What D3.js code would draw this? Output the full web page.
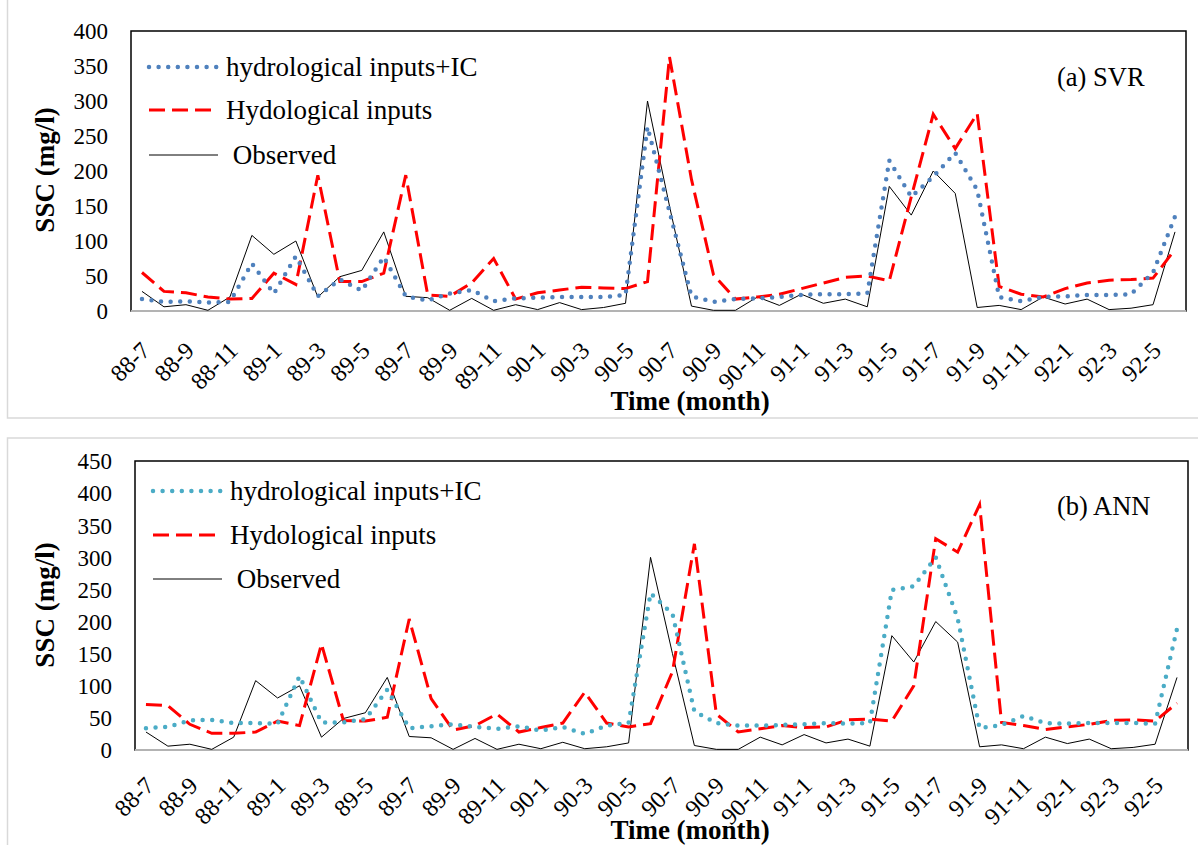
<!DOCTYPE html>
<html>
<head>
<meta charset="utf-8">
<script src="https://cdn.jsdelivr.net/npm/d3@7"></script>
<style>
    body { margin: 0; background: #fff; }
    svg text { font-family: "Liberation Serif", "Times New Roman", serif; fill: #000; }
</style>
</head>
<body>
<div id="chart-area"></div>
<script>

// months on the x axis (88-7 .. 92-6)
let months = ["88-7","88-8","88-9","88-10","88-11","88-12",
    "89-1","89-2","89-3","89-4","89-5","89-6","89-7","89-8","89-9","89-10","89-11","89-12",
    "90-1","90-2","90-3","90-4","90-5","90-6","90-7","90-8","90-9","90-10","90-11","90-12",
    "91-1","91-2","91-3","91-4","91-5","91-6","91-7","91-8","91-9","91-10","91-11","91-12",
    "92-1","92-2","92-3","92-4","92-5","92-6"];

// observed SSC (same in both panels)
let observed = [28, 6, 9, 1, 20, 108, 81, 100, 20, 49, 58, 113, 21, 19, 1, 18, 1, 9, 2, 12, 2, 5, 11, 300,
    150, 7, 1, 1, 20, 8, 24, 11, 17, 6, 178, 137, 200, 168, 5, 8, 2, 20, 10, 17, 2, 4, 9, 113];

// (a) SVR
let svrIC = [17, 13, 14, 12, 13, 68, 25, 78, 21, 45, 29, 77, 21, 15, 25, 30, 14, 18, 19, 20, 20, 20, 23, 263,
    142, 21, 13, 17, 18, 20, 23, 24, 24, 25, 215, 163, 192, 226, 173, 20, 14, 20, 21, 23, 23, 24, 55, 135];
let svrHydro = [55, 28, 26, 20, 17, 18, 54, 38, 194, 42, 42, 54, 194, 23, 21, 40, 75, 17, 26, 30, 34, 33, 32, 42,
    363, 188, 52, 17, 20, 24, 32, 40, 48, 50, 43, 163, 281, 232, 282, 35, 24, 20, 32, 40, 44, 45, 47, 88];

// (b) ANN
let annIC = [34, 36, 46, 47, 42, 42, 41, 115, 43, 43, 48, 94, 34, 37, 40, 36, 33, 37, 30, 36, 25, 38, 42, 244,
    212, 60, 42, 38, 38, 39, 40, 42, 41, 42, 249, 255, 300, 205, 34, 39, 53, 42, 41, 42, 42, 42, 41, 189];
let annHydro = [71, 69, 40, 26, 26, 28, 45, 38, 165, 46, 45, 51, 204, 80, 31, 38, 56, 28, 35, 42, 90, 42, 36, 41,
    122, 321, 56, 28, 33, 38, 35, 36, 47, 48, 45, 100, 329, 308, 382, 43, 38, 32, 36, 40, 46, 47, 45, 73];

let yTicksA = [0, 50, 100, 150, 200, 250, 300, 350, 400];
let yTicksB = [0, 50, 100, 150, 200, 250, 300, 350, 400, 450];

let legendNames = ["hydrological inputs+IC", "Hydological inputs", " Observed"];

const SERIF = '"Liberation Serif", "Times New Roman", serif';


class PanelChart {

    constructor(svg, cfg) {
        this.svg = svg;
        this.cfg = cfg;
        this.initVis();
    }

    initVis() {
        let vis = this;
        let c = vis.cfg;

        // outer light frame
        vis.svg.append("rect")
            .attr("x", 7.5).attr("y", c.frameTop)
            .attr("width", 1200).attr("height", c.frameHeight)
            .attr("fill", "none")
            .attr("stroke", "#d9d9d9")
            .attr("stroke-width", 1.5);

        vis.x = d3.scalePoint()
            .domain(months)
            .range([c.left, c.right])
            .padding(0.5);

        vis.y = d3.scaleLinear()
            .domain([0, d3.max(c.yTicks)])
            .range([c.bottom, c.top]);

        vis.g = vis.svg.append("g");

        // y axis
        let yAxis = d3.axisLeft(vis.y).tickValues(c.yTicks).tickSize(0).tickPadding(0);
        vis.g.append("g")
            .attr("transform", `translate(${c.left - 23},0)`)
            .call(yAxis)
            .attr("font-family", SERIF)
            .attr("font-size", 23)
            .call(g => g.select(".domain").remove())
            .selectAll("text")
            .style("font-family", SERIF)
            .style("font-size", "23px")
            .attr("dy", "0.34em");

        // x axis, every other month labelled
        let xAxis = d3.axisBottom(vis.x)
            .tickSize(0)
            .tickFormat((d, i) => i % 2 === 0 ? d : "");
        vis.g.append("g")
            .attr("transform", `translate(0,${c.bottom})`)
            .call(xAxis)
            .attr("font-family", SERIF)
            .attr("font-size", 24)
            .call(g => g.select(".domain").remove())
            .selectAll("text")
            .style("font-family", SERIF)
            .style("font-size", "24px")
            .attr("x", 0).attr("y", 0)
            .attr("dy", "0.35em")
            .attr("text-anchor", "end")
            .attr("transform", `translate(3,${c.labelOffset}) rotate(-45)`);

        // plot border
        vis.g.append("rect")
            .attr("x", c.left).attr("y", c.top)
            .attr("width", c.right - c.left).attr("height", c.bottom - c.top)
            .attr("fill", "none")
            .attr("stroke", "#000")
            .attr("stroke-width", 1.5);

        vis.g.append("line")
            .attr("x1", c.left).attr("x2", c.right)
            .attr("y1", c.bottom).attr("y2", c.bottom)
            .attr("stroke", "#b3b3b3")
            .attr("stroke-width", 2);

        // axis titles
        vis.g.append("text")
            .attr("transform", `translate(54,${c.yTitleY}) rotate(-90)`)
            .attr("text-anchor", "middle")
            .style("font-size", "27px")
            .style("font-weight", "bold")
            .text("SSC (mg/l)");

        vis.g.append("text")
            .attr("x", 690).attr("y", c.xTitleY)
            .attr("text-anchor", "middle")
            .style("font-size", "27px")
            .style("font-weight", "bold")
            .text("Time (month)");

        // panel label
        vis.g.append("text")
            .attr("x", 1057).attr("y", c.top + c.labelDy)
            .style("font-size", "26.5px")
            .text(c.title);

        vis.styles = [
            {color: c.icColor, width: 4.5, dash: "0 9.6", cap: "round"},
            {color: "#ff0000", width: 3, dash: "16 7", cap: "butt"},
            {color: "#000", width: 1, dash: null, cap: "butt"}
        ];

        vis.wrangleData();
    }

    wrangleData() {
        let vis = this;
        vis.series = [vis.cfg.ic, vis.cfg.hydro, observed].map((vals, k) => ({
            style: vis.styles[k],
            values: vals.map((v, i) => ({month: months[i], value: v}))
        }));
        vis.updateVis();
    }

    updateVis() {
        let vis = this;
        let c = vis.cfg;

        let line = d3.line()
            .x(d => vis.x(d.month))
            .y(d => vis.y(d.value));

        // draw observed first, dotted on top
        vis.g.selectAll(".series")
            .data(vis.series.slice().reverse())
            .enter().append("path")
            .attr("class", "series")
            .attr("fill", "none")
            .attr("stroke", d => d.style.color)
            .attr("stroke-width", d => d.style.width)
            .attr("stroke-dasharray", d => d.style.dash)
            .attr("stroke-linecap", d => d.style.cap)
            .attr("stroke-linejoin", "miter")
            .attr("d", d => line(d.values));

        // legend
        let leg = vis.g.selectAll(".legend")
            .data(vis.series)
            .enter().append("g")
            .attr("class", "legend")
            .attr("transform", (d, i) => `translate(0,${c.legendY[i]})`);

        leg.append("line")
            .attr("x1", c.left + 18).attr("x2", c.left + 87)
            .attr("stroke", d => d.style.color)
            .attr("stroke-width", d => d.style.width)
            .attr("stroke-dasharray", d => d.style.dash)
            .attr("stroke-linecap", d => d.style.cap);

        leg.append("text")
            .attr("x", c.left + 95)
            .attr("dy", "0.33em")
            .style("font-size", "27px")
            .style("white-space", "pre")
            .text((d, i) => legendNames[i]);
    }
}


let svg = d3.select("#chart-area").append("svg")
    .attr("width", 1198)
    .attr("height", 845);

new PanelChart(svg, {
    frameTop: -1, frameHeight: 419,
    left: 131, right: 1186, top: 31, bottom: 311,
    yTicks: yTicksA, labelOffset: 35,
    yTitleY: 170, xTitleY: 410,
    title: "(a) SVR", labelDy: 55,
    icColor: "#4f81bd", ic: svrIC, hydro: svrHydro,
    legendY: [67, 110, 155]
});

new PanelChart(svg, {
    frameTop: 438, frameHeight: 420,
    left: 135, right: 1188, top: 461, bottom: 750,
    yTicks: yTicksB, labelOffset: 31,
    yTitleY: 605, xTitleY: 839,
    title: "(b) ANN", labelDy: 54,
    icColor: "#4bacc6", ic: annIC, hydro: annHydro,
    legendY: [491, 535, 579]
});

</script>
</body>
</html>
